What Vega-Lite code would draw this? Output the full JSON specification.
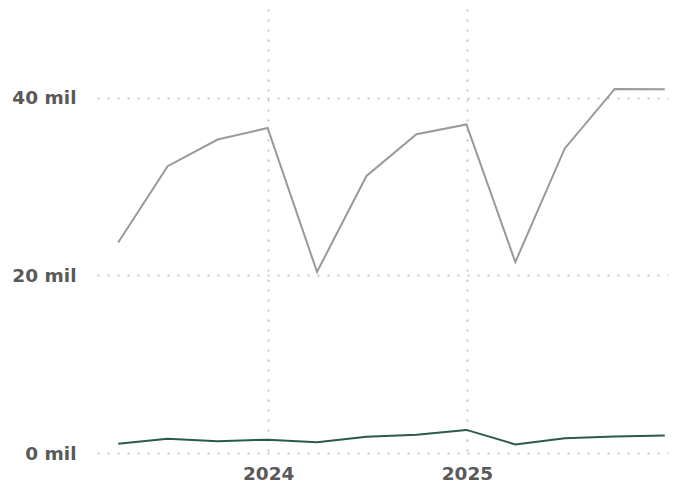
{
  "$schema": "https://vega.github.io/schema/vega-lite/v6.json",
  "width": 571,
  "height": 444,
  "autosize": {"type": "none"},
  "padding": {"left": 97, "top": 9, "right": 8, "bottom": 32},
  "background": "white",
  "config": {"view": {"stroke": null}},
  "data": {
    "values": [
      {"date": "2023-03-31", "series": "A", "value": 23.7},
      {"date": "2023-06-30", "series": "A", "value": 32.3},
      {"date": "2023-09-30", "series": "A", "value": 35.3},
      {"date": "2023-12-31", "series": "A", "value": 36.6},
      {"date": "2024-03-31", "series": "A", "value": 20.4},
      {"date": "2024-06-30", "series": "A", "value": 31.2},
      {"date": "2024-09-30", "series": "A", "value": 35.9},
      {"date": "2024-12-31", "series": "A", "value": 37.0},
      {"date": "2025-03-31", "series": "A", "value": 21.5},
      {"date": "2025-06-30", "series": "A", "value": 34.3},
      {"date": "2025-09-30", "series": "A", "value": 41.0},
      {"date": "2025-12-31", "series": "A", "value": 40.95},
      {"date": "2023-03-31", "series": "B", "value": 1.05},
      {"date": "2023-06-30", "series": "B", "value": 1.6},
      {"date": "2023-09-30", "series": "B", "value": 1.33},
      {"date": "2023-12-31", "series": "B", "value": 1.5},
      {"date": "2024-03-31", "series": "B", "value": 1.2},
      {"date": "2024-06-30", "series": "B", "value": 1.84},
      {"date": "2024-09-30", "series": "B", "value": 2.05},
      {"date": "2024-12-31", "series": "B", "value": 2.6},
      {"date": "2025-03-31", "series": "B", "value": 0.97},
      {"date": "2025-06-30", "series": "B", "value": 1.66},
      {"date": "2025-09-30", "series": "B", "value": 1.85},
      {"date": "2025-12-31", "series": "B", "value": 1.98}
    ]
  },
  "mark": {"type": "line", "strokeWidth": 2, "interpolate": "linear"},
  "encoding": {
    "x": {
      "field": "date",
      "type": "temporal",
      "scale": {"domain": ["2023-02-20", "2026-01-06"]},
      "axis": {
        "title": null,
        "format": "%Y",
        "values": [{"year": 2024, "month": 1, "date": 1}, {"year": 2025, "month": 1, "date": 1}],
        "domain": false,
        "ticks": false,
        "grid": true,
        "gridColor": "#c8c8c8",
        "gridDash": [2, 8],
        "gridWidth": 2,
        "labelFont": "DejaVu Sans",
        "labelFontWeight": "bold",
        "labelFontSize": 18.5,
        "labelColor": "#595959",
        "labelPadding": 11,
        "labelFlush": false
      }
    },
    "y": {
      "field": "value",
      "type": "quantitative",
      "scale": {"domain": [0, 50], "nice": false},
      "axis": {
        "title": null,
        "values": [0, 20, 40],
        "labelExpr": "datum.value + ' mil'",
        "domain": false,
        "ticks": false,
        "grid": true,
        "gridColor": "#c8c8c8",
        "gridDash": [2, 8],
        "gridWidth": 2,
        "labelFont": "DejaVu Sans",
        "labelFontWeight": "bold",
        "labelFontSize": 18.5,
        "labelColor": "#595959",
        "labelPadding": 21
      }
    },
    "color": {
      "field": "series",
      "type": "nominal",
      "scale": {"domain": ["A", "B"], "range": ["#999999", "#275c47"]},
      "legend": null
    }
  }
}
